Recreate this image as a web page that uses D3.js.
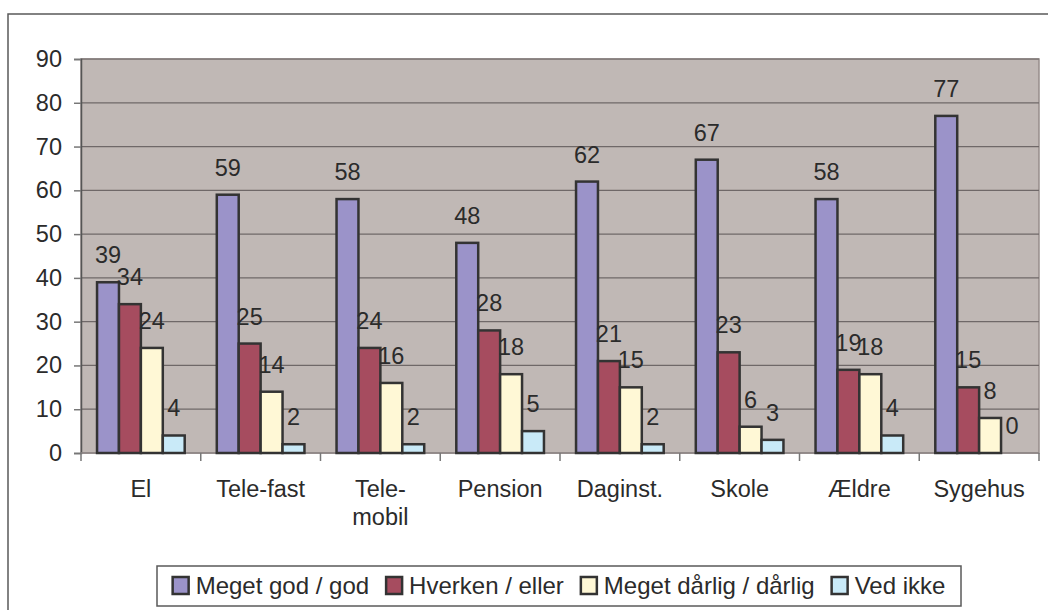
<!DOCTYPE html>
<html lang="da">
<head>
    <meta charset="UTF-8">
    <title>Tilfredshed</title>
    <script src="https://d3js.org/d3.v7.min.js"></script>
    <style>
        body { margin: 0; background: #fff; }
        text { font-family: "Liberation Sans", Arial, sans-serif; fill: #2b2b2b; }
    </style>
</head>
<body>
<div id="chart"></div>

<script>
    // data
    var categories = ["El", "Tele-fast", "Tele-mobil", "Pension", "Daginst.", "Skole", "Ældre", "Sygehus"];
    var seriesNames = ["Meget god / god", "Hverken / eller", "Meget dårlig / dårlig", "Ved ikke"];
    var godValues = [39, 59, 58, 48, 62, 67, 58, 77];
    var hverkenValues = [34, 25, 24, 28, 21, 23, 19, 15];
    var daarligValues = [24, 14, 16, 18, 15, 6, 18, 8];
    var vedIkkeValues = [4, 2, 2, 5, 2, 3, 4, 0];
    var yTicks = [0, 10, 20, 30, 40, 50, 60, 70, 80, 90];
    var colors = ["#9b93c9", "#a64c5f", "#fff8d6", "#c9eaf8"];

    var allValues = [godValues, hverkenValues, daarligValues, vedIkkeValues];

    var W = 1048, H = 610;
    var FONT = "23.5px";
    var plot = {left: 81, right: 1039, top: 59, bottom: 453};

    var svg = d3.select("#chart").append("svg")
        .attr("width", W)
        .attr("height", H);

    // outer frame (runs off the right and bottom of the picture)
    svg.append("rect")
        .attr("x", 8).attr("y", 14)
        .attr("width", W + 20).attr("height", H + 20)
        .attr("fill", "none")
        .attr("stroke", "#5a5a5a")
        .attr("stroke-width", 1.5);

    // plot area background
    svg.append("rect")
        .attr("x", plot.left).attr("y", plot.top)
        .attr("width", plot.right - plot.left)
        .attr("height", plot.bottom - plot.top)
        .attr("fill", "#c0b8b5")
        .attr("stroke", "#978d8b")
        .attr("stroke-width", 1.5);

    var x = d3.scaleBand()
        .domain(categories)
        .range([plot.left, plot.right])
        .padding(0);

    var gap = x.bandwidth() * 0.134;
    var xs = d3.scaleBand()
        .domain(d3.range(seriesNames.length))
        .range([gap, x.bandwidth() - gap])
        .padding(0);

    var y = d3.scaleLinear()
        .domain([0, 90])
        .range([plot.bottom, plot.top]);

    // gridlines
    svg.append("g")
        .selectAll("line")
        .data(yTicks.filter(function (d) { return d > 0; }))
        .enter().append("line")
        .attr("x1", plot.left).attr("x2", plot.right)
        .attr("y1", function (d) { return y(d); })
        .attr("y2", function (d) { return y(d); })
        .attr("stroke", "#6f6868")
        .attr("stroke-width", 1.2);

    // y axis
    var yAxis = svg.append("g")
        .attr("transform", "translate(" + plot.left + ",0)")
        .call(d3.axisLeft(y).tickValues(yTicks).tickSize(7).tickPadding(12));
    yAxis.select(".domain").attr("stroke", "#555").attr("stroke-width", 1.5);
    yAxis.selectAll(".tick line").attr("stroke", "#777").attr("stroke-width", 1.5);
    yAxis.selectAll(".tick text")
        .style("font-family", "'Liberation Sans', Arial, sans-serif")
        .style("font-size", FONT)
        .attr("fill", "#2b2b2b");

    // x axis line and ticks at category boundaries
    svg.append("line")
        .attr("x1", plot.left).attr("x2", plot.right)
        .attr("y1", plot.bottom).attr("y2", plot.bottom)
        .attr("stroke", "#8d8585")
        .attr("stroke-width", 1.5);
    var bounds = categories.map(function (c) { return x(c); }).concat([plot.right]);
    svg.append("g")
        .selectAll("line")
        .data(bounds)
        .enter().append("line")
        .attr("x1", function (d) { return d; })
        .attr("x2", function (d) { return d; })
        .attr("y1", plot.bottom).attr("y2", plot.bottom + 8)
        .attr("stroke", "#777")
        .attr("stroke-width", 1.5);

    // bars
    var barData = [];
    categories.forEach(function (c, i) {
        allValues.forEach(function (vals, s) {
            barData.push({cat: c, s: s, v: vals[i]});
        });
    });

    svg.append("g")
        .selectAll("rect")
        .data(barData.filter(function (d) { return d.v > 0; }))
        .enter().append("rect")
        .attr("x", function (d) { return x(d.cat) + xs(d.s); })
        .attr("y", function (d) { return y(d.v); })
        .attr("width", xs.bandwidth())
        .attr("height", function (d) { return y(0) - y(d.v); })
        .attr("fill", function (d) { return colors[d.s]; })
        .attr("stroke", "#333")
        .attr("stroke-width", 2.5);

    // value labels
    svg.append("g")
        .selectAll("text")
        .data(barData)
        .enter().append("text")
        .attr("x", function (d) { return x(d.cat) + xs(d.s) + xs.bandwidth() / 2; })
        .attr("y", function (d) { return y(d.v) - 19; })
        .attr("text-anchor", "middle")
        .style("font-size", FONT)
        .text(function (d) { return d.v; });

    // category labels, wrapped after a hyphen when too wide
    var maxW = x.bandwidth() * 0.85;
    categories.forEach(function (c) {
        var t = svg.append("text")
            .attr("x", x(c) + x.bandwidth() / 2)
            .attr("y", 497)
            .attr("text-anchor", "middle")
            .style("font-size", FONT)
            .text(c);
        if (t.node().getComputedTextLength() > maxW && c.indexOf("-") > 0) {
            var k = c.indexOf("-") + 1;
            t.text(null);
            t.append("tspan").attr("x", x(c) + x.bandwidth() / 2).text(c.slice(0, k));
            t.append("tspan").attr("x", x(c) + x.bandwidth() / 2).attr("dy", 28).text(c.slice(k));
        }
    });

    // legend
    var leg = {left: 157, right: 961, top: 566, bottom: 606};
    svg.append("rect")
        .attr("x", leg.left).attr("y", leg.top)
        .attr("width", leg.right - leg.left)
        .attr("height", leg.bottom - leg.top)
        .attr("fill", "#fff")
        .attr("stroke", "#5a5a5a")
        .attr("stroke-width", 1.5);

    var lg = svg.append("g");
    var cx = 0;
    seriesNames.forEach(function (name, i) {
        var item = lg.append("g").attr("transform", "translate(" + cx + ",0)");
        item.append("rect")
            .attr("x", 0).attr("y", 577)
            .attr("width", 16).attr("height", 17)
            .attr("fill", colors[i])
            .attr("stroke", "#333")
            .attr("stroke-width", 2.5);
        var t = item.append("text")
            .attr("x", 23).attr("y", 594)
            .style("font-size", "24px")
            .text(name);
        cx += 23 + t.node().getComputedTextLength() + 17;
    });
    var lgW = cx - 17;
    lg.attr("transform", "translate(" + (leg.left + (leg.right - leg.left - lgW) / 2) + ",0)");
</script>
</body>
</html>
